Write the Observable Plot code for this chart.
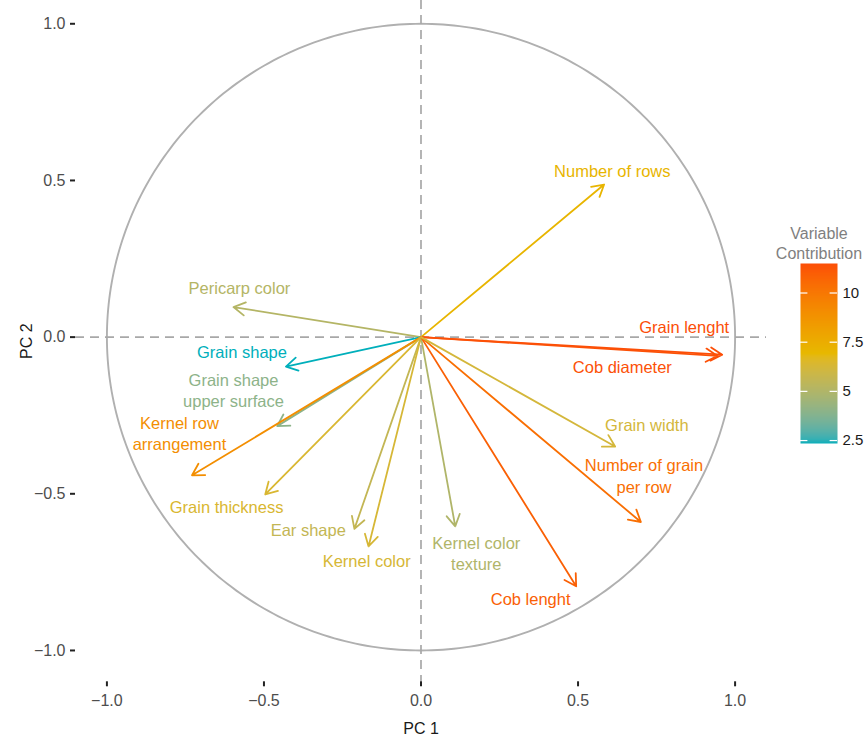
<!DOCTYPE html>
<html>
<head>
<meta charset="utf-8">
<script src="https://cdn.jsdelivr.net/npm/d3@7"></script>
<script src="https://cdn.jsdelivr.net/npm/@observablehq/plot@0.6"></script>
<style>
  html, body { margin: 0; padding: 0; background: #fff; }
  #wrap { position: relative; width: 868px; height: 740px; font-family: "Liberation Sans", Arial, sans-serif; }
  #main { position: absolute; left: 0; top: 0; }
  #legend { position: absolute; left: 770px; top: 220px; }
</style>
</head>
<body>
<div id="wrap"><div id="main"></div><div id="legend"></div></div>
<script>
// ---- data ----
const variables = [
  "Number of rows", "Pericarp color", "Grain lenght", "Cob diameter",
  "Grain shape", "Grain shape\nupper surface", "Kernel row\narrangement",
  "Grain thickness", "Ear shape", "Kernel color", "Kernel color\ntexture",
  "Cob lenght", "Number of grain\nper row", "Grain width"
];
const pc1 = [0.583, -0.597, 0.959, 0.944, -0.430, -0.458, -0.729, -0.496, -0.212, -0.167, 0.109, 0.494, 0.700, 0.618];
const pc2 = [0.487, 0.096, -0.056, -0.060, -0.094, -0.284, -0.441, -0.502, -0.612, -0.668, -0.604, -0.795, -0.590, -0.349];
const contrib = [7.1, 5.1, 11.5, 11.4, 2.35, 4.0, 9.0, 6.4, 5.6, 6.3, 5.0, 10.9, 10.35, 6.2];
// label anchor positions (data units, as placed by the repelled text)
const labelX = [0.609, -0.578, 0.838, 0.641, -0.570, -0.597, -0.769, -0.619, -0.359, -0.173, 0.176, 0.349, 0.710, 0.719];
const labelY = [0.532, 0.159, 0.034, -0.093, -0.045, -0.167, -0.304, -0.540, -0.614, -0.713, -0.687, -0.834, -0.440, -0.279];

const axisTicks = [-1, -0.5, 0, 0.5, 1];
const legendTicks = [2.5, 5, 7.5, 10];
const gradientColors = ["#00AFBB", "#E7B800", "#FC4E07"];

const rows = variables.map((v, i) => ({name: v, x: pc1[i], y: pc2[i], c: contrib[i], lx: labelX[i], ly: labelY[i]}));
const cMin = d3.min(contrib), cMax = d3.max(contrib);
const colorScale = {
  type: "linear",
  domain: [cMin, (cMin + cMax) / 2, cMax],
  range: gradientColors,
  interpolate: d3.interpolateLab
};

// unit circle outline
const circle = d3.range(0, 361, 1).map(a => ({x: Math.cos(a * Math.PI / 180), y: Math.sin(a * Math.PI / 180)}));

const font = "Liberation Sans, Arial, sans-serif";
const fmt = d3.format(".1f");

const main = Plot.plot({
  width: 770,
  height: 740,
  marginLeft: 75,
  marginRight: 4,
  marginTop: 0,
  marginBottom: 58.7,
  style: {fontFamily: font, fontSize: "16px", background: "white", overflow: "visible"},
  x: {domain: [-1.1, 1.1]},
  y: {domain: [-1.1, 1.0743]},
  color: colorScale,
  marks: [
    Plot.line(circle, {x: "x", y: "y", stroke: "#b0b0b0", strokeWidth: 1.9}),
    Plot.ruleX([0], {stroke: "#a8a8a8", strokeWidth: 1.7, strokeDasharray: "9,6"}),
    Plot.ruleY([0], {stroke: "#a8a8a8", strokeWidth: 1.7, strokeDasharray: "9,6"}),
    Plot.arrow(rows, {x1: () => 0, y1: () => 0, x2: "x", y2: "y", stroke: "c", strokeWidth: 1.8, headLength: 11, headAngle: 60}),
    Plot.text(rows, {x: "lx", y: "ly", text: "name", fill: "c", fontSize: 16.5, lineHeight: 1.3, textAnchor: "middle"}),
    Plot.axisX({ticks: axisTicks, tickFormat: fmt, tickSize: 5, tickPadding: 8, fontSize: 16, color: "#4d4d4d", stroke: "#222", strokeWidth: 2,
      label: "PC 1", labelAnchor: "center", labelArrow: "none", labelOffset: 52}),
    Plot.axisY({ticks: axisTicks, tickFormat: fmt, tickSize: 5, tickPadding: 5, fontSize: 16, color: "#4d4d4d", stroke: "#222", strokeWidth: 2,
      label: "PC 2", labelAnchor: "center", labelArrow: "none", labelOffset: 55})
  ]
});
main.querySelectorAll("[aria-label='x-axis label'], [aria-label='y-axis label']").forEach(g => g.setAttribute("fill", "#1a1a1a"));
document.getElementById("main").appendChild(main);

const legend = Plot.plot({
  width: 98,
  height: 240,
  marginLeft: 30,
  marginRight: 31,
  marginTop: 43,
  marginBottom: 17,
  style: {fontFamily: font, fontSize: "15px", background: "transparent", overflow: "visible"},
  x: {domain: [0, 1], axis: null},
  y: {domain: [cMin, cMax], axis: null},
  color: colorScale,
  marks: [
    Plot.raster({x1: 0, x2: 1, y1: cMin, y2: cMax, width: 1, height: 300, fill: (x, y) => y, imageRendering: "auto"}),
    Plot.ruleY(legendTicks, {y: d => d, x1: 0, x2: 0.2, stroke: "white", strokeWidth: 1.2}),
    Plot.ruleY(legendTicks, {y: d => d, x1: 0.8, x2: 1, stroke: "white", strokeWidth: 1.2}),
    Plot.axisY({anchor: "right", ticks: legendTicks, tickSize: 0, tickPadding: 5, fontSize: 15, color: "#1a1a1a", tickFormat: d => String(d), label: null}),
    Plot.text(["Variable\nContribution"], {frameAnchor: "top", text: d => d, dy: -39, lineAnchor: "top", lineHeight: 1.25, fontSize: 16, fill: "#7f7f7f"})
  ]
});
document.getElementById("legend").appendChild(legend);
</script>
</body>
</html>
